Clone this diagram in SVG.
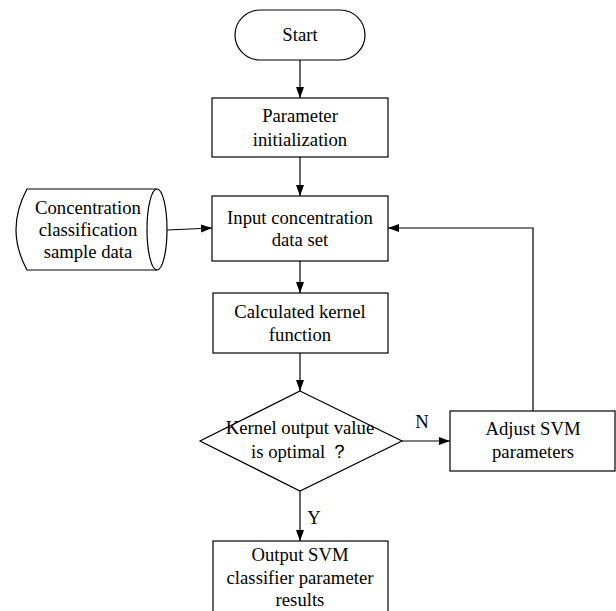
<svg xmlns="http://www.w3.org/2000/svg" width="616" height="611" viewBox="0 0 616 611">
<defs>
<marker id="arr" markerWidth="12" markerHeight="10" refX="11" refY="4" orient="auto" markerUnits="userSpaceOnUse">
<path d="M0,0 L11,4 L0,8 Z" fill="#000"/>
</marker>
<style>
.s{fill:#fff;stroke:#000;stroke-width:1.2}
.t{font-family:"Liberation Serif","Times New Roman",serif;font-size:18.7px;fill:#000;text-anchor:middle}
.c{fill:none;stroke:#000;stroke-width:1.2}
</style>
</defs>
<rect width="616" height="611" fill="#fff"/>
<g id="connectors">
<path class="c" d="M300,60 V98" marker-end="url(#arr)"/>
<path class="c" d="M300,157 V196" marker-end="url(#arr)"/>
<path class="c" d="M167,230 L212,228" marker-end="url(#arr)"/>
<path class="c" d="M300,261 V293" marker-end="url(#arr)"/>
<path class="c" d="M300,353 V391" marker-end="url(#arr)"/>
<path class="c" d="M402,441 H450" marker-end="url(#arr)"/>
<path class="c" d="M533,411 V228 H388" marker-end="url(#arr)"/>
<path class="c" d="M300,491 V541" marker-end="url(#arr)"/>
<text class="t" x="422" y="428">N</text>
<text class="t" x="314" y="524">Y</text>
</g>
<g id="start">
<rect class="s" x="235" y="10" width="130" height="50" rx="25" ry="25"/>
<text class="t" x="300" y="41">Start</text>
</g>
<g id="init">
<rect class="s" x="212" y="98" width="176" height="59"/>
<text class="t" x="300" y="122">Parameter</text>
<text class="t" x="300" y="146">initialization</text>
</g>
<g id="data">
<path class="s" d="M27,189 H157 A10,40.5 0 0 1 157,270 H27 Q5,229.5 27,189 Z"/>
<path class="c" d="M157,189 A10,40.5 0 0 0 157,270"/>
<text class="t" x="88" y="214">Concentration</text>
<text class="t" x="88" y="236">classification</text>
<text class="t" x="88" y="258">sample data</text>
</g>
<g id="input">
<rect class="s" x="212" y="196" width="176" height="65"/>
<text class="t" x="300" y="224">Input concentration</text>
<text class="t" x="300" y="246">data set</text>
</g>
<g id="kernel">
<rect class="s" x="213" y="293" width="175" height="60"/>
<text class="t" x="300" y="318">Calculated kernel</text>
<text class="t" x="300" y="341">function</text>
</g>
<g id="decision">
<path class="s" d="M300,391 L402,441 L300,491 L200,441 Z"/>
<text class="t" x="300" y="434">Kernel output value</text>
<text class="t" x="300" y="458">is optimal ？</text>
</g>
<g id="adjust">
<rect class="s" x="450" y="411" width="165" height="60"/>
<text class="t" x="533" y="435">Adjust SVM</text>
<text class="t" x="533" y="458">parameters</text>
</g>
<g id="output">
<rect class="s" x="213" y="541" width="175" height="80"/>
<text class="t" x="300" y="561">Output SVM</text>
<text class="t" x="300" y="584">classifier parameter</text>
<text class="t" x="300" y="606">results</text>
</g>
</svg>
